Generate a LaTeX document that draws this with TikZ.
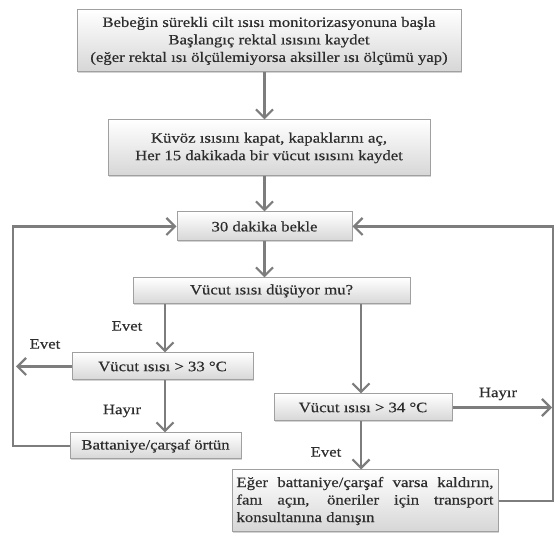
\documentclass[tikz,border=0pt]{standalone}
\usepackage{fontspec}
\setmainfont[FakeStretch=1.17,FakeBold=0.5]{Liberation Serif}
\usetikzlibrary{arrows.meta,shadows,positioning}
\definecolor{linegray}{RGB}{125,125,125}
\definecolor{boxgray}{RGB}{160,160,160}
\definecolor{textgray}{RGB}{45,45,45}

\begin{document}
\begin{tikzpicture}[x=1pt,y=-1pt]
            \tikzstyle{arrow} = [line width=2.2pt,draw=linegray,-{Straight Barb[length=8.5pt,width=17pt,line width=2.2pt]}]
            \tikzstyle{box} = [draw=boxgray,line width=1pt,top color=white,bottom color=black!16,
                drop shadow={opacity=0.35,shadow xshift=1pt,shadow yshift=-1.5pt},
                font=\fontsize{14.3}{17.5}\selectfont,text=textgray,align=center,inner sep=0pt]
            \tikzstyle{answer} = [font=\fontsize{14.3}{17}\selectfont,text=textgray]

            \useasboundingbox (0,0) rectangle (555,534);

            \node[box,minimum width=384pt,minimum height=62pt] (start) at (269,41)
                {Bebeğin sürekli cilt ısısı monitorizasyonuna başla\\Başlangıç rektal ısısını kaydet\\(eğer rektal ısı ölçülemiyorsa aksiller ısı ölçümü yap)};
            \node[box,minimum width=322pt,minimum height=56pt] (kuvoz) at (269,148)
                {Küvöz ısısını kapat, kapaklarını aç,\\Her 15 dakikada bir vücut ısısını kaydet};
            \node[box,minimum width=175pt,minimum height=29pt] (bekle) at (264.5,226.5) {30 dakika bekle};
            \node[box,minimum width=277pt,minimum height=26pt] (dusuyor) at (271.5,291) {Vücut ısısı düşüyor mu?};
            \node[box,minimum width=181pt,minimum height=27pt] (otuzuc) at (162.5,366.5) {Vücut ısısı > 33 °C};
            \node[box,minimum width=171pt,minimum height=26pt] (ortun) at (155.5,446) {Battaniye/çarşaf örtün};
            \node[box,minimum width=178pt,minimum height=27pt] (otuzdort) at (363,407.5) {Vücut ısısı > 34 °C};
            \node[box,minimum width=266pt,minimum height=62pt,align=justify,text width=257pt] (fan) at (365,501)
                {Eğer battaniye/çarşaf varsa kaldırın,\linebreak fanı açın, öneriler için transport\linebreak konsultanına danışın};

            \coordinate (leftend) at (16,366.5);
            \coordinate (leftloop) at (13,446);
            \coordinate (rightend) at (552,407.5);
            \coordinate (rightloop) at (553,501);

            \draw [arrow] (start.south -| bekle) -- (kuvoz.north -| bekle);
            \draw [arrow] (kuvoz.south -| bekle) -- (bekle.north);
            \draw [arrow] (bekle.south) -- (dusuyor.north -| bekle);
            \draw [arrow] ([xshift=-106.5pt]dusuyor.south) -- ([xshift=2.5pt]otuzuc.north);
            \draw [arrow] ([xshift=89.5pt]dusuyor.south) -- ([xshift=-2pt]otuzdort.north);
            \draw [arrow] (otuzuc.west) -- (leftend);
            \draw [arrow] ([xshift=2.5pt]otuzuc.south) -- ([xshift=9.5pt]ortun.north);
            \draw [arrow] (ortun.west) -- (leftloop) |- (bekle.west);
            \draw [arrow] (otuzdort.east) -- (rightend);
            \draw [arrow] ([xshift=-2pt]otuzdort.south) -- ([xshift=-4pt]fan.north);
            \draw [arrow] (fan.east) -- (rightloop) |- (bekle.east);

            \node[answer] (evet1) at (127,326) {Evet};
            \node[answer] (evet2) at (45,344) {Evet};
            \node[answer] (hayir1) at (122,411) {Hayır};
            \node[answer] (hayir2) at (498,394) {Hayır};
            \node[answer] (evet3) at (326,452) {Evet};
        \end{tikzpicture}
\end{document}
